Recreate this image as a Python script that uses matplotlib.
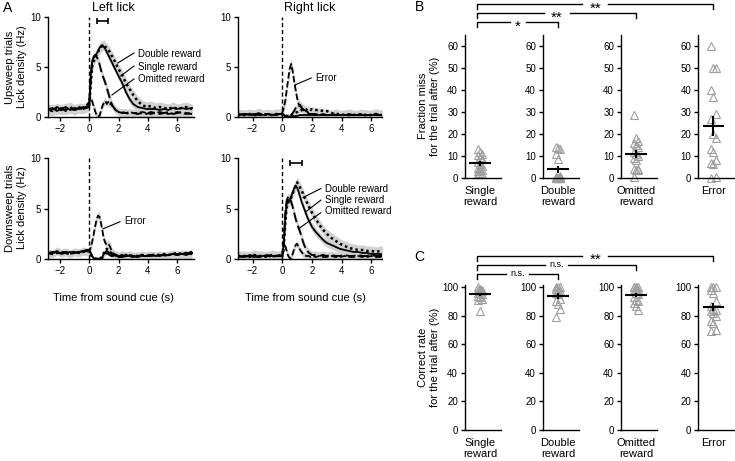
import numpy as np
import matplotlib
matplotlib.use("Agg")
import matplotlib.pyplot as plt
from matplotlib.lines import Line2D

plt.rcParams['font.family'] = ['Liberation Sans', 'DejaVu Sans']
plt.rcParams['axes.linewidth'] = 1.0

# ---- Panel A: lick density traces (Hz) ----
T = [-3.0, -2.5, -2.2, -1.9, -1.6, -1.3, -1.0, -0.7, -0.4, -0.2,
     0.0, 0.1, 0.2, 0.3, 0.4, 0.5, 0.6, 0.7, 0.8, 0.9, 1.0, 1.1, 1.2, 1.3, 1.4, 1.5, 1.6, 1.7, 1.8, 1.9, 2.0,
     2.25, 2.5, 2.75, 3.0, 3.3, 3.6, 3.9, 4.2, 4.5, 4.8, 5.1, 5.4, 5.7, 6.0, 6.3, 6.6, 7.0]

up_left_single = [0.7, 0.9, 0.6, 0.8, 1.0, 0.7, 0.9, 0.8, 1.0, 0.9,
                  1.2, 4.0, 5.6, 5.9, 6.1, 6.3, 6.6, 6.9, 7.1, 7.2, 7.0, 6.8, 6.5, 6.2, 5.9, 5.6, 5.3, 5.0, 4.7, 4.4, 4.1,
                  3.4, 2.5, 1.8, 1.3, 1.0, 0.9, 0.8, 0.8, 0.8, 0.7, 0.8, 0.7, 0.9, 0.8, 0.9, 0.8, 0.9]
up_left_double = [0.8, 0.6, 0.9, 0.7, 0.8, 1.0, 0.7, 0.9, 0.8, 1.0,
                  1.0, 3.0, 5.0, 5.5, 5.9, 6.2, 6.5, 6.8, 7.0, 7.1, 7.2, 7.0, 6.9, 6.7, 6.5, 6.2, 6.0, 5.7, 5.4, 5.1, 4.8,
                  4.2, 3.4, 2.8, 2.2, 1.6, 1.2, 1.0, 1.1, 0.9, 1.0, 0.9, 0.8, 1.0, 0.8, 0.9, 1.0, 0.8]
up_left_omitted = [0.6, 0.8, 0.7, 0.9, 0.6, 0.8, 0.7, 0.9, 0.8, 0.9,
                   1.0, 3.5, 5.5, 6.0, 6.2, 6.0, 5.8, 5.3, 4.7, 4.2, 3.8, 3.4, 2.9, 2.4, 1.9, 1.4, 1.1, 0.9, 0.7, 0.6, 0.5,
                   0.4, 0.4, 0.3, 0.4, 0.3, 0.4, 0.3, 0.5, 0.4, 0.3, 0.4, 0.5, 0.3, 0.4, 0.5, 0.4, 0.3]
up_left_error = [0.9, 0.7, 1.0, 0.8, 0.7, 0.9, 0.8, 1.0, 0.9, 1.1,
                 1.5, 1.8, 1.6, 1.1, 0.6, 0.2, 0.05, 0.1, 0.6, 1.1, 1.4, 1.6, 1.3, 1.5, 1.2, 1.4, 1.0, 0.9, 0.7, 0.6, 0.5,
                 0.5, 0.4, 0.5, 0.4, 0.4, 0.5, 0.4, 0.3, 0.4, 0.5, 0.4, 0.3, 0.4, 0.5, 0.4, 0.3, 0.4]

up_right_error = [0.3, 0.2, 0.3, 0.2, 0.4, 0.2, 0.3, 0.2, 0.3, 0.3,
                  0.4, 0.9, 1.6, 2.7, 3.8, 4.8, 5.3, 4.6, 3.6, 2.7, 1.9, 1.3, 1.1, 1.0, 0.8, 0.7, 0.6, 0.5, 0.4, 0.4, 0.3,
                  0.3, 0.2, 0.3, 0.2, 0.2, 0.3, 0.2, 0.2, 0.3, 0.2, 0.2, 0.3, 0.2, 0.2, 0.3, 0.2, 0.2]
up_right_single = [0.2, 0.3, 0.2, 0.2, 0.3, 0.2, 0.3, 0.2, 0.2, 0.3,
                   0.3, 0.2, 0.1, 0.1, 0.05, 0.05, 0.05, 0.05, 0.05, 0.1, 0.1, 0.15, 0.2, 0.2, 0.2, 0.2, 0.2, 0.2, 0.2, 0.2, 0.2,
                   0.2, 0.2, 0.2, 0.2, 0.2, 0.2, 0.2, 0.2, 0.2, 0.2, 0.2, 0.2, 0.2, 0.2, 0.2, 0.2, 0.2]
up_right_double = [0.2, 0.2, 0.3, 0.2, 0.2, 0.3, 0.2, 0.2, 0.3, 0.2,
                   0.3, 0.2, 0.1, 0.1, 0.1, 0.1, 0.1, 0.2, 0.3, 0.4, 0.5, 0.6, 0.6, 0.7, 0.7, 0.8, 0.7, 0.8, 0.8, 0.7, 0.8,
                   0.7, 0.7, 0.6, 0.6, 0.4, 0.3, 0.3, 0.2, 0.2, 0.2, 0.3, 0.2, 0.2, 0.2, 0.3, 0.2, 0.2]
up_right_omitted = [0.2, 0.3, 0.2, 0.3, 0.2, 0.2, 0.3, 0.2, 0.2, 0.3,
                    0.3, 0.2, 0.1, 0.1, 0.1, 0.1, 0.2, 0.4, 0.6, 0.9, 1.1, 1.0, 1.2, 0.9, 0.8, 0.6, 0.5, 0.4, 0.3, 0.3, 0.3,
                    0.2, 0.2, 0.2, 0.2, 0.2, 0.2, 0.2, 0.2, 0.2, 0.2, 0.2, 0.2, 0.2, 0.2, 0.2, 0.2, 0.2]

down_left_error = [0.6, 0.5, 0.8, 0.6, 0.7, 0.5, 0.7, 0.6, 0.8, 0.7,
                   0.8, 1.1, 1.7, 2.4, 3.2, 3.9, 4.3, 4.2, 3.6, 2.8, 2.0, 1.6, 1.4, 1.5, 1.3, 0.9, 0.6, 0.5, 0.4, 0.4, 0.3,
                   0.4, 0.3, 0.4, 0.3, 0.3, 0.4, 0.3, 0.4, 0.3, 0.4, 0.3, 0.4, 0.5, 0.4, 0.5, 0.4, 0.5]
down_left_single = [0.5, 0.6, 0.7, 0.5, 0.6, 0.7, 0.6, 0.7, 0.8, 0.9,
                    0.9, 0.6, 0.3, 0.1, 0.02, 0.02, 0.02, 0.02, 0.05, 0.2, 0.5, 0.7, 0.8, 0.7, 0.6, 0.5, 0.4, 0.4, 0.3, 0.3, 0.3,
                    0.3, 0.3, 0.3, 0.2, 0.3, 0.3, 0.3, 0.4, 0.3, 0.4, 0.4, 0.4, 0.5, 0.5, 0.5, 0.6, 0.6]
down_left_double = [0.6, 0.5, 0.6, 0.7, 0.5, 0.6, 0.7, 0.6, 0.7, 0.8,
                    0.8, 0.5, 0.2, 0.1, 0.02, 0.02, 0.02, 0.05, 0.1, 0.3, 0.6, 0.9, 1.0, 0.9, 0.7, 0.6, 0.5, 0.4, 0.4, 0.3, 0.3,
                    0.3, 0.4, 0.3, 0.3, 0.3, 0.4, 0.3, 0.4, 0.4, 0.4, 0.5, 0.4, 0.5, 0.6, 0.5, 0.6, 0.7]
down_left_omitted = [0.5, 0.7, 0.6, 0.6, 0.7, 0.5, 0.6, 0.7, 0.7, 0.8,
                     0.8, 0.6, 0.3, 0.1, 0.02, 0.02, 0.02, 0.02, 0.02, 0.1, 0.3, 0.5, 0.6, 0.5, 0.4, 0.3, 0.3, 0.3, 0.2, 0.2, 0.2,
                     0.2, 0.3, 0.2, 0.3, 0.2, 0.3, 0.3, 0.3, 0.4, 0.3, 0.4, 0.4, 0.5, 0.4, 0.5, 0.5, 0.5]

down_right_single = [0.3, 0.2, 0.4, 0.3, 0.2, 0.3, 0.4, 0.3, 0.3, 0.4,
                     0.3, 1.5, 4.0, 5.5, 5.8, 5.9, 6.2, 6.6, 7.0, 7.3, 7.1, 6.7, 6.2, 5.7, 5.3, 4.9, 4.5, 4.1, 3.8, 3.5, 3.2,
                     2.7, 2.3, 1.9, 1.6, 1.4, 1.2, 1.0, 0.9, 0.8, 0.7, 0.7, 0.6, 0.6, 0.5, 0.5, 0.5, 0.4]
down_right_double = [0.3, 0.3, 0.2, 0.4, 0.3, 0.3, 0.2, 0.4, 0.3, 0.3,
                     0.3, 1.2, 3.5, 5.2, 5.6, 5.8, 6.1, 6.5, 6.9, 7.3, 7.6, 7.4, 7.1, 6.8, 6.5, 6.1, 5.8, 5.5, 5.2, 4.9, 4.6,
                     4.0, 3.4, 2.9, 2.5, 2.1, 1.8, 1.5, 1.3, 1.1, 1.0, 0.9, 0.9, 0.8, 0.8, 0.7, 0.8, 0.7]
down_right_omitted = [0.2, 0.3, 0.3, 0.2, 0.3, 0.2, 0.3, 0.3, 0.2, 0.3,
                      0.3, 1.5, 4.5, 5.8, 6.2, 6.0, 5.7, 5.2, 4.6, 4.0, 3.5, 3.1, 2.7, 2.2, 1.7, 1.3, 1.0, 0.8, 0.6, 0.5, 0.4,
                      0.4, 0.3, 0.4, 0.3, 0.4, 0.3, 0.3, 0.4, 0.3, 0.3, 0.4, 0.3, 0.3, 0.4, 0.3, 0.3, 0.3]
down_right_error = [0.3, 0.2, 0.3, 0.3, 0.2, 0.3, 0.3, 0.2, 0.3, 0.3,
                    0.4, 0.9, 1.3, 0.8, 0.3, 0.1, 0.1, 0.5, 1.0, 1.4, 1.5, 1.2, 0.9, 0.7, 0.5, 0.4, 0.3, 0.3, 0.3, 0.2, 0.3,
                    0.2, 0.3, 0.2, 0.2, 0.3, 0.2, 0.2, 0.3, 0.2, 0.2, 0.3, 0.2, 0.2, 0.3, 0.2, 0.2, 0.3]

# SEM half-width of the grey band for each trace (Hz)
sem_up_left = {'single': 0.4, 'double': 0.5, 'omitted': 0.4, 'error': 0.35}
sem_up_right = {'single': 0.12, 'double': 0.2, 'omitted': 0.2, 'error': 0.5}
sem_down_left = {'single': 0.15, 'double': 0.15, 'omitted': 0.15, 'error': 0.4}
sem_down_right = {'single': 0.4, 'double': 0.5, 'omitted': 0.4, 'error': 0.3}

# peak lick time bar (mean +- sd, s)
peak_time_up_left = (0.9, 0.36)
peak_time_down_right = (0.93, 0.41)

# ---- Panel B / C: per-mouse values (%) ----
groups = ['Single\nreward', 'Double\nreward', 'Omitted\nreward', 'Error']
miss_single = [13, 12, 11, 10.5, 9.5, 8.5, 7.5, 6.5, 5.5, 4.5, 4, 3.5, 3, 2.5, 2, 2]
miss_double = [14, 13.5, 13, 11, 8.5, 1, 0.5, 0.5, 0, 0, 0, 0, 0, 0, 0, 0]
miss_omitted = [28.5, 18, 17, 16, 15, 14, 12, 11, 10, 9, 8, 4, 4, 3.5, 3.5, 0.5]
miss_error = [60, 50, 50, 40, 37, 29, 27, 20, 18, 13, 12, 8, 7, 6.5, 0.5, 0]

correct_single = [100, 99, 98, 98, 97, 97, 96, 96, 95, 94, 93, 92, 91, 83]
correct_double = [100, 100, 100, 99, 98, 97, 96, 95, 92, 90, 88, 85, 79]
correct_omitted = [100, 100, 100, 100, 99, 98, 97, 96, 95, 93, 91, 90, 89, 87, 84]
correct_error = [100, 100, 100, 98, 96, 90, 87, 85, 84, 83, 82, 80, 76, 75, 70, 69]

sig_B = [(1, '*'), (2, '**'), (3, '**')]
sig_C = [(1, 'n.s.'), (2, 'n.s.'), (3, '**')]

W, H = 735, 461
fig = plt.figure(figsize=(W / 100, H / 100), dpi=100)


def px_box(left, top, right, bottom):
    """Axes rect in figure fraction from pixel edges (origin top-left)."""
    return [left / W, 1 - bottom / H, (right - left) / W, (bottom - top) / H]


def fx(px):
    return px / W


def fy(py):
    return 1 - py / H


styles = {
    'single': dict(linestyle='-', lw=1.3),
    'double': dict(linestyle=(0, (1, 1.2)), lw=1.8),
    'omitted': dict(linestyle=(0, (5, 2)), lw=1.4),
    'error': dict(linestyle=(0, (3.5, 1.5)), lw=1.3),
}


def trace_panel(rect, xlim, curves, sems):
    ax = fig.add_axes(rect)
    for name, y in curves.items():
        y = np.array(y)
        ax.fill_between(T, y - sems[name], y + sems[name], color='0.82', lw=0, zorder=1)
    for name, y in curves.items():
        ax.plot(T, y, color='black', zorder=3, **styles[name])
    ax.axvline(0, color='black', lw=1.0, linestyle=(0, (3, 2)), zorder=2)
    ax.set_xlim(*xlim)
    ax.set_ylim(0, 10)
    ax.set_xticks([-2, 0, 2, 4, 6])
    ax.set_xticklabels(['\u22122', '0', '2', '4', '6'])
    ax.set_yticks([0, 5, 10])
    for s in ['top', 'right']:
        ax.spines[s].set_visible(False)
    ax.tick_params(direction='out', length=3, width=1, labelsize=7, pad=2)
    return ax


def pointer(ax, text, xy_text, xy_line_start, xy_target):
    ax.plot([xy_line_start[0], xy_target[0]], [xy_line_start[1], xy_target[1]],
            color='black', lw=0.8, zorder=4)
    ax.text(xy_text[0], xy_text[1], text, fontsize=7, va='center', ha='left')


left_xlim = (-2.8, 7.1)
right_xlim = (-2.96, 6.74)

ax_ul = trace_panel(px_box(48, 17, 193.5, 117), left_xlim,
                    {'error': up_left_error, 'omitted': up_left_omitted,
                     'double': up_left_double, 'single': up_left_single}, sem_up_left)
ax_ur = trace_panel(px_box(238.3, 17, 382.3, 117), right_xlim,
                    {'single': up_right_single, 'double': up_right_double,
                     'omitted': up_right_omitted, 'error': up_right_error}, sem_up_right)
ax_dl = trace_panel(px_box(48, 158.3, 193.5, 259), left_xlim,
                    {'single': down_left_single, 'double': down_left_double,
                     'omitted': down_left_omitted, 'error': down_left_error}, sem_down_left)
ax_dr = trace_panel(px_box(238.3, 158.3, 382.3, 259), right_xlim,
                    {'error': down_right_error, 'omitted': down_right_omitted,
                     'double': down_right_double, 'single': down_right_single}, sem_down_right)

for ax, (m, sd) in [(ax_ul, peak_time_up_left), (ax_dr, peak_time_down_right)]:
    ax.errorbar(m, 9.55, xerr=sd, color='black', lw=1.2, capsize=2.5, capthick=1.2)

# labels with pointer lines
pointer(ax_ul, 'Double reward', (3.35, 6.3), (3.05, 6.4), (1.95, 5.4))
pointer(ax_ul, 'Single reward', (3.35, 5.0), (3.05, 5.1), (2.15, 4.1))
pointer(ax_ul, 'Omitted reward', (3.35, 3.8), (3.05, 3.8), (1.55, 2.2))
pointer(ax_ur, 'Error', (2.2, 3.9), (1.95, 3.9), (0.85, 3.2))
pointer(ax_dl, 'Error', (2.4, 3.8), (2.1, 3.7), (0.95, 3.0))
pointer(ax_dr, 'Double reward', (2.85, 7.0), (2.6, 7.0), (1.4, 6.1))
pointer(ax_dr, 'Single reward', (2.85, 5.85), (2.6, 5.85), (1.6, 4.7))
pointer(ax_dr, 'Omitted reward', (2.85, 4.75), (2.6, 4.6), (1.1, 3.0))

fig.text(fx(113), fy(8), 'Left lick', fontsize=9, ha='center', va='center')
fig.text(fx(310), fy(8), 'Right lick', fontsize=9, ha='center', va='center')
fig.text(fx(16), fy(67), 'Upsweep trials\nLick density (Hz)', fontsize=8, rotation=90,
         ha='center', va='center', linespacing=1.25)
fig.text(fx(16), fy(208), 'Downsweep trials\nLick density (Hz)', fontsize=8, rotation=90,
         ha='center', va='center', linespacing=1.25)
fig.text(fx(113), fy(298), 'Time from sound cue (s)', fontsize=8, ha='center', va='center')
fig.text(fx(305), fy(298), 'Time from sound cue (s)', fontsize=8, ha='center', va='center')


# ---- B and C ----
def scatter_row(top, bottom, ymax, yticks, datasets):
    axes = []
    lefts = [465, 543, 621, 698.3]
    for i, vals in enumerate(datasets):
        ax = fig.add_axes(px_box(lefts[i], top, lefts[i] + 35.5, bottom))
        vals = np.array(vals, dtype=float)
        offs = np.array([((k % 3) - 1) * 0.12 for k in range(len(vals))])
        ax.plot(offs, vals, '^', ms=5.8, mfc='none', mec='0.62', mew=0.8, clip_on=False, zorder=2)
        mean = vals.mean()
        sem = vals.std(ddof=1) / np.sqrt(len(vals))
        ax.hlines(mean, -0.6, 0.6, color='black', lw=1.5, zorder=3)
        ax.vlines(0, mean - sem, mean + sem, color='black', lw=1.5, zorder=3)
        ax.set_xlim(-0.85, 1.15)
        ax.set_ylim(0, ymax)
        ax.set_yticks(yticks)
        ax.set_xticks([0])
        ax.set_xticklabels([groups[i]], fontsize=8, linespacing=1.1)
        ax.tick_params(axis='x', length=0, pad=6)
        ax.tick_params(axis='y', direction='out', length=3, width=1, labelsize=7, pad=2)
        for s in ['top', 'right']:
            ax.spines[s].set_visible(False)
        axes.append(ax)
    return axes


# font size, half gap (px) and baseline drop (px) for each significance mark
sig_style = {'*': (11, 8, 8.0), '**': (11, 13, 8.0), 'n.s.': (6.5, 11.5, 2.0)}


def brackets(axes, sigs, levels_px):
    inv = fig.transFigure.inverted()
    xs = [inv.transform(ax.transData.transform((0, 0)))[0] * W for ax in axes]
    x0 = xs[0] - 3
    for (j, label), lv in zip(sigs, levels_px):
        fs, gap, drop = sig_style[label]
        xm = (x0 + xs[j]) / 2
        y, yd = fy(lv), fy(lv + 5)
        fig.add_artist(Line2D([fx(x0), fx(x0), fx(xm - gap)], [yd, y, y], color='black', lw=1.0,
                              transform=fig.transFigure))
        fig.add_artist(Line2D([fx(xm + gap), fx(xs[j]), fx(xs[j])], [y, y, yd], color='black', lw=1.0,
                              transform=fig.transFigure))
        fig.text(fx(xm), fy(lv + drop), label, fontsize=fs, ha='center', va='baseline')


axes_B = scatter_row(35, 178, 65, [0, 10, 20, 30, 40, 50, 60],
                     [miss_single, miss_double, miss_omitted, miss_error])
axes_C = scatter_row(285, 430, 101.5, [0, 20, 40, 60, 80, 100],
                     [correct_single, correct_double, correct_omitted, correct_error])

brackets(axes_B, sig_B, [22.3, 13.3, 4.3])
brackets(axes_C, sig_C, [274, 265, 256])

fig.text(fx(429), fy(106), 'Fraction miss\nfor the trial after (%)', fontsize=8, rotation=90,
         ha='center', va='center', linespacing=1.25)
fig.text(fx(429), fy(357), 'Correct rate\nfor the trial after (%)', fontsize=8, rotation=90,
         ha='center', va='center', linespacing=1.25)

fig.text(fx(8), fy(8), 'A', fontsize=10, ha='center', va='center')
fig.text(fx(420), fy(7), 'B', fontsize=10, ha='center', va='center')
fig.text(fx(419), fy(257), 'C', fontsize=10, ha='center', va='center')

fig.savefig('out.png', dpi=100)
